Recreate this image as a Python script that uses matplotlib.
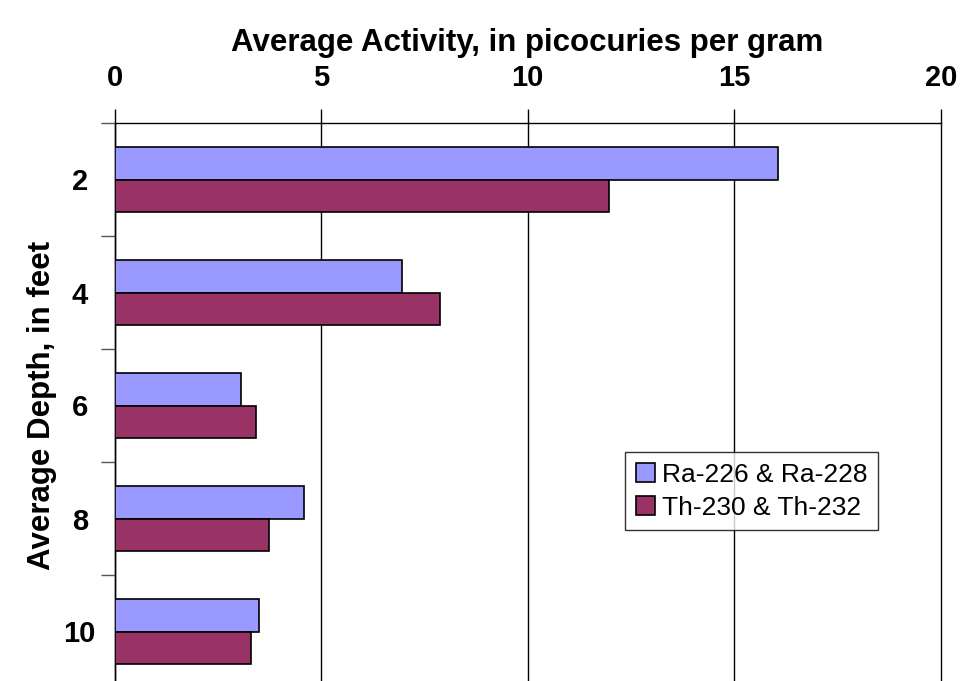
import numpy as np
import matplotlib.pyplot as plt

depths = ["2", "4", "6", "8", "10"]
ra = [16.06, 6.97, 3.07, 4.59, 3.49]
th = [11.97, 7.88, 3.43, 3.75, 3.30]
ra_label = "Ra-226 & Ra-228"
th_label = "Th-230 & Th-232"

plt.rcParams['font.family'] = ['Liberation Sans', 'DejaVu Sans']

fig = plt.figure(figsize=(9.63, 6.81), dpi=100)
ax = fig.add_axes([114.5 / 963, -7 / 681, (940.7 - 114.5) / 963, (688 - 123) / 681])

y = np.arange(len(depths))
h = 0.286
ax.barh(y - h / 2, ra, height=h, color="#9999FF", edgecolor="black", lw=1.2, label=ra_label, zorder=3)
ax.barh(y + h / 2, th, height=h, color="#993366", edgecolor="black", lw=1.2, label=th_label, zorder=3)

ax.set_xlim(0, 20)
ax.set_ylim(len(depths) - 0.5, -0.5)
ax.xaxis.tick_top()
ax.xaxis.set_label_position("top")
ax.set_xticks([0, 5, 10, 15, 20])
ax.tick_params(axis="x", direction="out", length=10, width=1, pad=12, labelsize=21)
ax.set_xticklabels(["0", "5", "10", "15", "20"], fontweight="bold")
ax.grid(axis="x", color="black", lw=1, zorder=0)
for gl in ax.get_xgridlines():
    gl.set_clip_on(False)

ax.set_yticks(y)
ax.set_yticklabels(depths, fontweight="bold", fontsize=21, ha="center")
ax.set_yticks(np.arange(-0.5, len(depths)), minor=True)
ax.tick_params(axis="y", which="major", length=0, pad=25)
ax.tick_params(axis="y", which="minor", direction="out", length=10, width=1, color="#555555")

for s in ["right", "bottom"]:
    ax.spines[s].set_visible(False)
ax.spines["top"].set_linewidth(1)
ax.spines["left"].set_linewidth(1)

ax.set_xlabel("Average Activity, in picocuries per gram", fontsize=22.5, fontweight="bold", labelpad=10)
ax.set_ylabel("Average Depth, in feet", fontsize=22.5, fontweight="bold")
ax.yaxis.set_label_coords(-0.07, 0.5)

leg = ax.legend(loc="upper left", bbox_to_anchor=((625 - 114.5) / 826.2, 1 - (452 - 123) / 565),
                fontsize=19, frameon=True, fancybox=False, edgecolor="black",
                handlelength=0.75, handleheight=0.75, handletextpad=0.25, borderpad=0.4,
                labelspacing=0.35, borderaxespad=0)
leg.get_frame().set_linewidth(1)

fig.savefig("out.png", dpi=100)
